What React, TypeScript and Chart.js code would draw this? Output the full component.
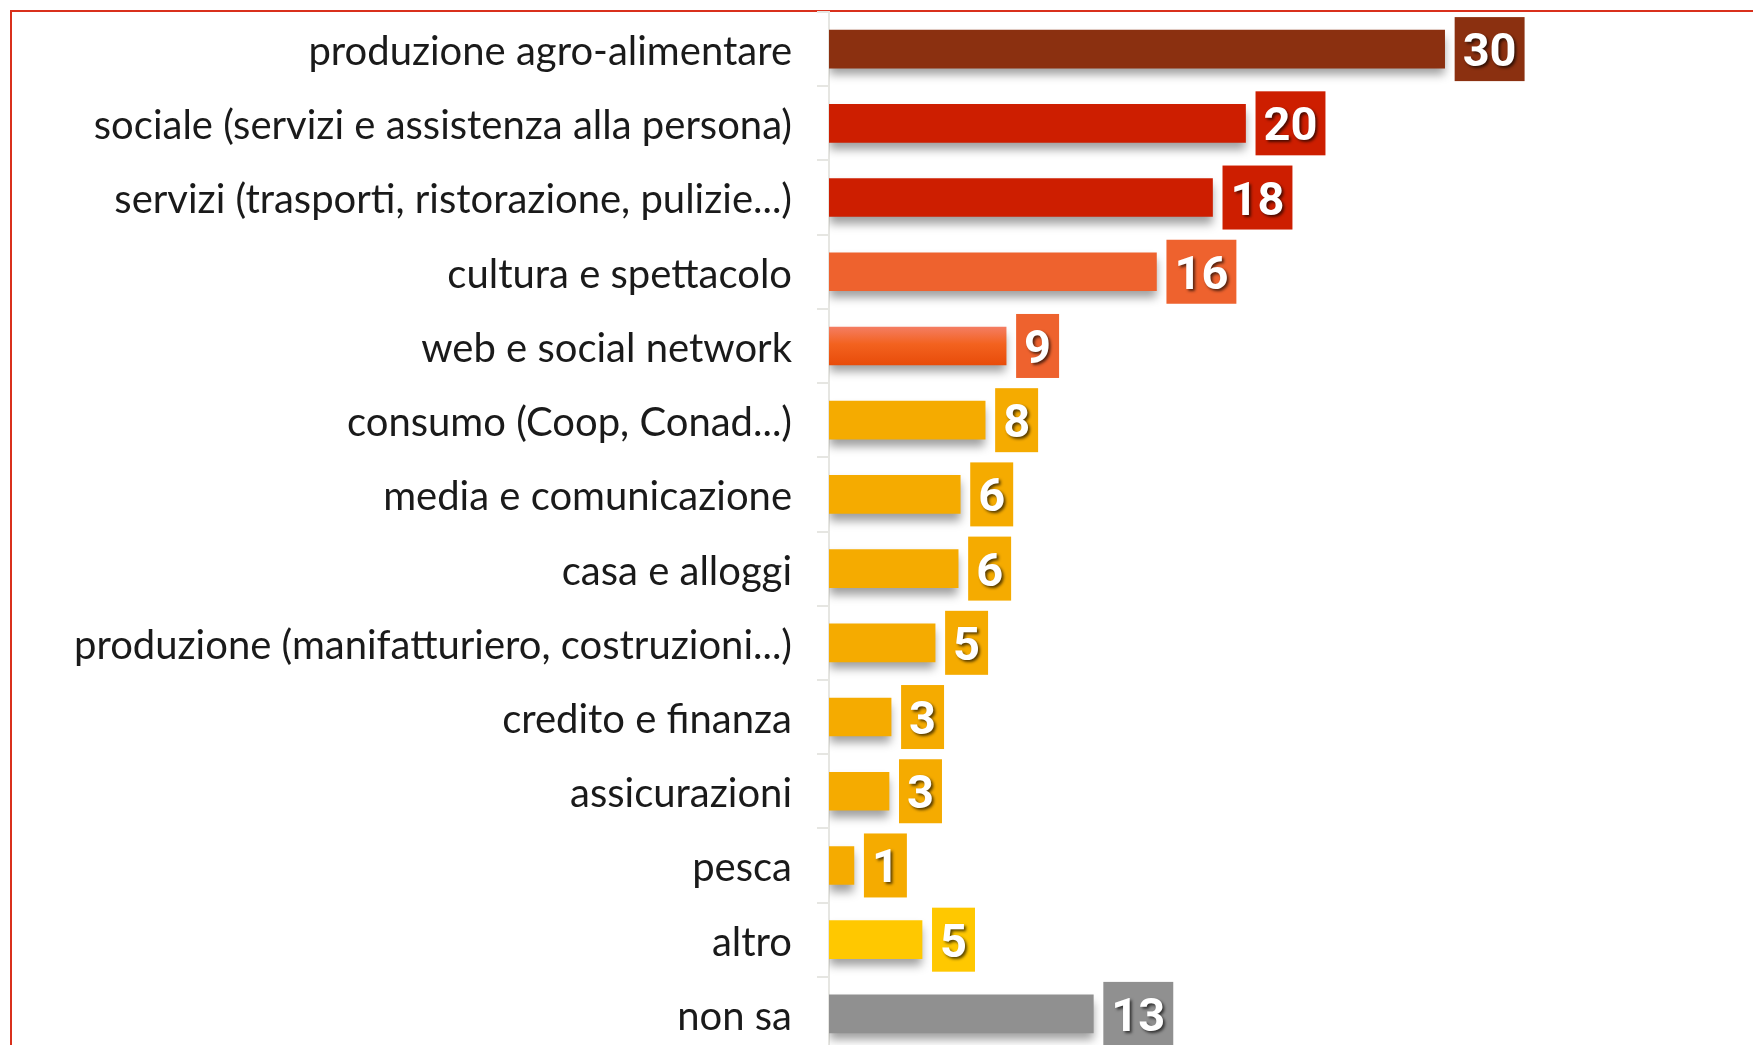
import React, { useEffect, useRef } from "react";
import { Chart, registerables } from "chart.js";

Chart.register(...registerables);

const categories = [
  "produzione agro-alimentare",
  "sociale (servizi e assistenza alla persona)",
  "servizi (trasporti, ristorazione, pulizie...)",
  "cultura e spettacolo",
  "web e social network",
  "consumo (Coop, Conad...)",
  "media e comunicazione",
  "casa e alloggi",
  "produzione (manifatturiero, costruzioni...)",
  "credito e finanza",
  "assicurazioni",
  "pesca",
  "altro",
  "non sa",
];

// bar lengths
const values = [29.65, 20.06, 18.47, 15.77, 8.53, 7.52, 6.32, 6.22, 5.11, 2.99, 2.89, 1.2, 4.48, 12.73];
// value labels as printed
const shownValues = [30, 20, 18, 16, 9, 8, 6, 6, 5, 3, 3, 1, 5, 13];

const barColors = [
  "#8b3010",
  "#cd1e00",
  "#cd1e00",
  "#ee622e",
  "#ee622e",
  "#f5ab00",
  "#f5ab00",
  "#f5ab00",
  "#f5ab00",
  "#f5ab00",
  "#f5ab00",
  "#f5ab00",
  "#ffc800",
  "#909090",
];
const gradientIndex = 4;
const gradientStops = ["#f47d62", "#f3621f", "#e84c0a"];

const X_MAX = 44.5;

export default function App() {
  const ref = useRef<HTMLCanvasElement | null>(null);

  useEffect(() => {
    if (!ref.current) return;

    const shadowPlugin = {
      id: "barShadowAndLabels",
      beforeDatasetsDraw(chart: any) {
        const ctx = chart.ctx;
        ctx.save();
        ctx.shadowColor = "rgba(0,0,0,0.38)";
        ctx.shadowBlur = 9;
        ctx.shadowOffsetX = 0;
        ctx.shadowOffsetY = 7;
      },
      afterDatasetsDraw(chart: any) {
        const ctx = chart.ctx;
        ctx.restore();
        const meta = chart.getDatasetMeta(0);
        meta.data.forEach((bar: any, i: number) => {
          const text = String(shownValues[i]);
          ctx.save();
          ctx.font = "bold 47px Roboto";
          const tw = ctx.measureText(text).width;
          const w = tw + 16;
          const h = 64;
          const x0 = bar.x + 10;
          const y0 = bar.y - h / 2;
          ctx.fillStyle = barColors[i];
          ctx.fillRect(x0, y0, w, h);
          ctx.shadowColor = "rgba(0,0,0,0.65)";
          ctx.shadowBlur = 3;
          ctx.shadowOffsetX = 2;
          ctx.shadowOffsetY = 2;
          ctx.fillStyle = "#ffffff";
          ctx.textAlign = "center";
          ctx.textBaseline = "alphabetic";
          ctx.fillText(text, x0 + w / 2, bar.y + 17);
          ctx.restore();
        });
      },
    };

    const chart = new Chart(ref.current, {
      type: "bar",
      data: {
        labels: categories,
        datasets: [
          {
            data: values,
            backgroundColor: (c: any) => {
              const i = c.dataIndex;
              if (i === gradientIndex && c.chart.scales && c.chart.scales.y) {
                const y = c.chart.scales.y.getPixelForValue(i);
                const g = c.chart.ctx.createLinearGradient(0, y - 19, 0, y + 19);
                g.addColorStop(0, gradientStops[0]);
                g.addColorStop(0.45, gradientStops[1]);
                g.addColorStop(1, gradientStops[2]);
                return g;
              }
              return barColors[i];
            },
            barThickness: 38,
            borderWidth: 0,
          },
        ],
      },
      options: {
        indexAxis: "y",
        responsive: false,
        animation: false,
        layout: { padding: { top: 12, bottom: 1, left: 0, right: 0 } },
        plugins: {
          legend: { display: false },
          tooltip: { enabled: false },
        },
        scales: {
          x: {
            display: false,
            min: 0,
            max: X_MAX,
          },
          y: {
            afterFit: (axis: any) => {
              axis.width = 829;
              axis.paddingTop = 0;
              axis.paddingBottom = 0;
            },
            grid: {
              drawOnChartArea: false,
              drawTicks: true,
              tickLength: 12,
              color: "#e6e6e2",
              lineWidth: 2,
            },
            border: { display: true, color: "#e6e6e2", width: 2 },
            ticks: {
              padding: 25,
              labelOffset: 3,
              color: "#1a1a1a",
              font: { family: "Lato", size: 40, weight: "normal" },
            },
          },
        },
      },
      plugins: [shadowPlugin],
    } as any);

    return () => chart.destroy();
  }, []);

  return (
    <div
      style={{
        position: "fixed",
        left: 0,
        top: 0,
        width: 1753,
        height: 1045,
        overflow: "hidden",
        background: "#ffffff",
      }}
    >
      <div
        style={{
          position: "absolute",
          left: 10,
          top: 10,
          width: 3000,
          height: 3000,
          borderLeft: "2px solid #d9301c",
          borderTop: "2px solid #d9301c",
        }}
      />
      <canvas
        ref={ref}
        width={1753}
        height={1052}
        style={{ position: "absolute", left: 0, top: 0, width: 1753, height: 1052 }}
      />
    </div>
  );
}
